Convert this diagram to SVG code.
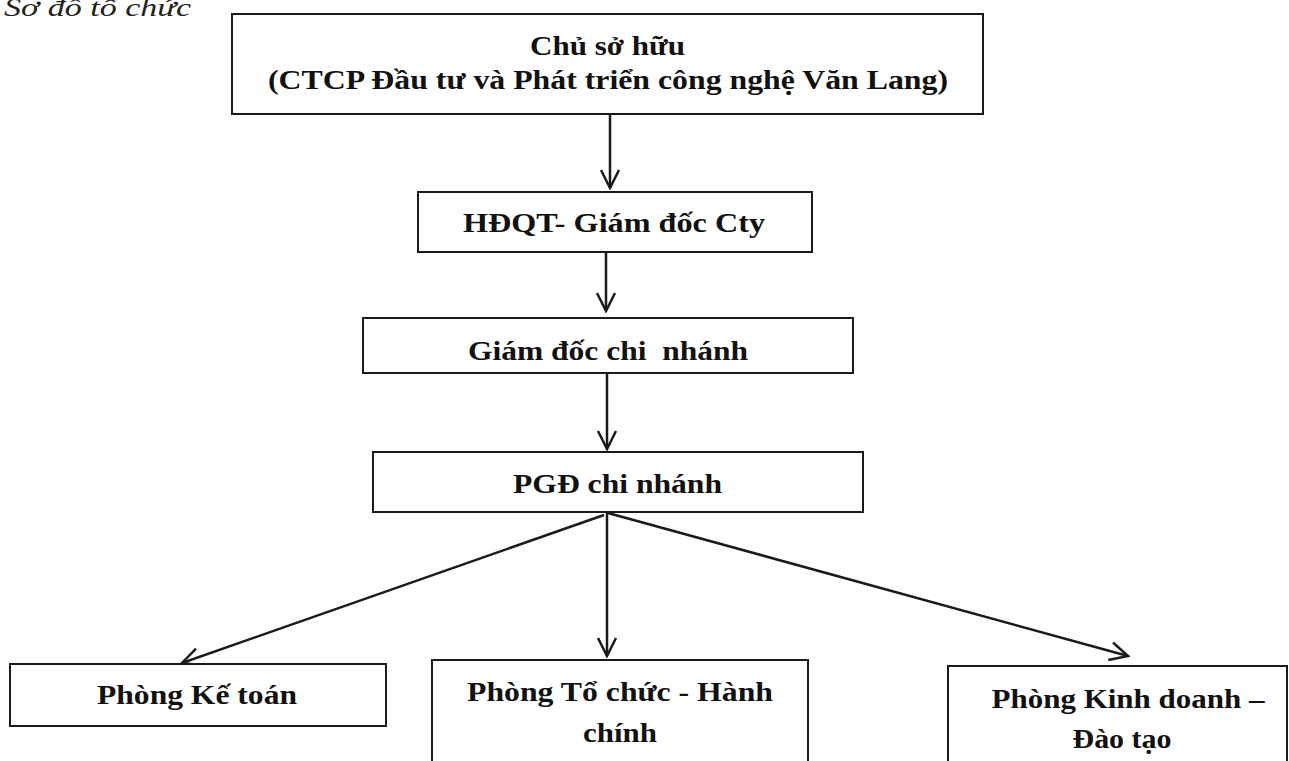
<svg xmlns="http://www.w3.org/2000/svg" width="1289" height="761" viewBox="0 0 1289 761">
<style>
.box{fill:#fff;stroke:#1a1a1a;stroke-width:2}
.t{font-family:"Liberation Serif","Times New Roman",serif;font-weight:bold;font-size:27px;fill:#111;text-anchor:middle;white-space:pre}
.title{font-family:"Liberation Serif","Times New Roman",serif;font-style:italic;font-size:25px;fill:#222}
.conn{stroke:#1a1a1a;stroke-width:2.5;fill:none;marker-end:url(#arr)}
</style>
<defs>
<marker id="arr" markerUnits="userSpaceOnUse" viewBox="-21 -11 23 22" refX="0" refY="0" markerWidth="23" markerHeight="22" orient="auto">
<path d="M-18,-9 L0,0 L-18,9" fill="none" stroke="#1a1a1a" stroke-width="2.5" stroke-linejoin="miter"/>
</marker>
</defs>
<rect width="1289" height="761" fill="#fff"/>
<text class="title" x="4" y="16" textLength="187" lengthAdjust="spacingAndGlyphs">Sơ đồ tổ chức</text>
<g id="connectors">
<line class="conn" x1="610" y1="115" x2="610" y2="188"/>
<line class="conn" x1="606" y1="253" x2="606" y2="311"/>
<line class="conn" x1="607" y1="374" x2="607" y2="449"/>
<line class="conn" x1="604" y1="515" x2="182" y2="663"/>
<line class="conn" x1="607" y1="513" x2="607" y2="656"/>
<line class="conn" x1="608" y1="513" x2="1128" y2="656"/>
</g>
<g id="chu-so-huu">
<rect class="box" x="232" y="14" width="751" height="100"/>
<text class="t" x="607.5" y="55" textLength="155" lengthAdjust="spacingAndGlyphs">Chủ sở hữu</text>
<text class="t" x="608" y="89" textLength="680" lengthAdjust="spacingAndGlyphs">(CTCP Đầu tư và Phát triển công nghệ Văn Lang)</text>
</g>
<g id="hdqt">
<rect class="box" x="418" y="192" width="394" height="60"/>
<text class="t" x="614" y="232" textLength="302" lengthAdjust="spacingAndGlyphs">HĐQT- Giám đốc Cty</text>
</g>
<g id="gd-chi-nhanh">
<rect class="box" x="363" y="318" width="490" height="55"/>
<text class="t" x="608" y="360" textLength="280" lengthAdjust="spacingAndGlyphs">Giám đốc chi  nhánh</text>
</g>
<g id="pgd-chi-nhanh">
<rect class="box" x="373" y="452" width="490" height="60"/>
<text class="t" x="617.5" y="493" textLength="209" lengthAdjust="spacingAndGlyphs">PGĐ chi nhánh</text>
</g>
<g id="phong-ke-toan">
<rect class="box" x="10" y="664" width="376" height="62"/>
<text class="t" x="197" y="704" textLength="200" lengthAdjust="spacingAndGlyphs">Phòng Kế toán</text>
</g>
<g id="phong-to-chuc">
<rect class="box" x="432" y="660" width="376" height="120"/>
<text class="t" x="620" y="701" textLength="306" lengthAdjust="spacingAndGlyphs">Phòng Tổ chức - Hành</text>
<text class="t" x="620" y="742" textLength="74" lengthAdjust="spacingAndGlyphs">chính</text>
</g>
<g id="phong-kinh-doanh">
<rect class="box" x="948" y="666" width="339" height="120"/>
<text class="t" x="1128" y="708" textLength="273" lengthAdjust="spacingAndGlyphs">Phòng Kinh doanh –</text>
<text class="t" x="1122" y="748" textLength="99" lengthAdjust="spacingAndGlyphs">Đào tạo</text>
</g>
</svg>
